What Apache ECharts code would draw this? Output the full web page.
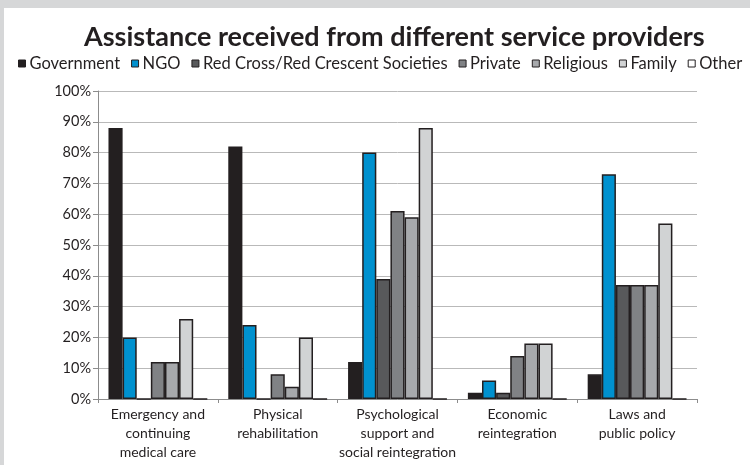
<!DOCTYPE html>
<html>
<head>
<meta charset="utf-8">
<script src="https://cdn.jsdelivr.net/npm/echarts@6/dist/echarts.min.js"></script>
<style>
  html, body { margin: 0; padding: 0; background: #d6d7d8; width: 750px; height: 465px; overflow: hidden; }
  #chart { position: absolute; left: 4px; top: 8px; width: 746px; height: 457px; background: #ffffff; }
</style>
</head>
<body>
<div id="chart"></div>
<script>
// Service areas on the x axis
const categories = [
  'Emergency and\ncontinuing\nmedical care',
  'Physical\nrehabilitation',
  'Psychological\nsupport and\nsocial reintegration',
  'Economic\nreintegration',
  'Laws and\npublic policy'
];

// Share of respondents (%) assisted by each provider
const government = [88, 82, 12, 2, 8];
const ngo        = [20, 24, 80, 6, 73];
const redCross   = [0, 0, 39, 2, 37];
const privateSec = [12, 8, 61, 14, 37];
const religious  = [12, 4, 59, 18, 37];
const family     = [26, 20, 88, 18, 57];
const other      = [0, 0, 0, 0, 0];

const yTicks = { min: 0, max: 100, interval: 10 };

const seriesDefs = [
  { name: 'Government', data: government, color: '#231f20' },
  { name: 'NGO', data: ngo, color: '#0091cf' },
  { name: 'Red Cross/Red Crescent Societies', data: redCross, color: '#58595b' },
  { name: 'Private', data: privateSec, color: '#808285' },
  { name: 'Religious', data: religious, color: '#a7a9ac' },
  { name: 'Family', data: family, color: '#d1d3d4' },
  { name: 'Other', data: other, color: '#ffffff' }
];

const chart = echarts.init(document.getElementById('chart'), null, { renderer: 'canvas' });

chart.setOption({
  animation: false,
  textStyle: { fontFamily: 'Lato', color: '#231f20' },
  title: {
    text: 'Assistance received from different service providers',
    left: 75,
    top: 11,
    textStyle: { fontFamily: 'Lato', fontWeight: 'bold', fontSize: 27, color: '#231f20' }
  },
  legend: {
    top: 47,
    left: 14,
    width: 732,
    padding: 0,
    itemWidth: 7,
    itemHeight: 7,
    itemGap: 11,
    icon: 'rect',
    textStyle: { fontFamily: 'Lato', fontSize: 16.5, color: '#231f20', padding: [0, 0, 0, -1] },
    itemStyle: { borderColor: '#231f20', borderWidth: 1 },
    data: seriesDefs.map(s => s.name)
  },
  grid: { left: 94, right: 53, top: 83, bottom: 66, containLabel: false },
  xAxis: {
    type: 'category',
    data: categories,
    axisLine: { show: true, lineStyle: { color: '#8c8c8c', width: 1 } },
    axisTick: { show: true, length: 4, lineStyle: { color: '#8c8c8c' } },
    axisLabel: { fontFamily: 'Lato', fontSize: 14, lineHeight: 19, color: '#231f20', margin: 6, interval: 0 }
  },
  yAxis: {
    type: 'value',
    min: yTicks.min,
    max: yTicks.max,
    interval: yTicks.interval,
    axisLine: { show: true, lineStyle: { color: '#8c8c8c', width: 1 } },
    axisTick: { show: true, length: 5, lineStyle: { color: '#8c8c8c' } },
    axisLabel: { formatter: '{value}%', fontFamily: 'Lato', fontSize: 14.5, color: '#231f20', margin: 7 },
    splitLine: { lineStyle: { color: '#b9b9b9', width: 1 } }
  },
  series: seriesDefs.map(s => ({
    name: s.name,
    type: 'bar',
    data: s.data,
    barGap: '0%',
    barCategoryGap: '17.5%',
    itemStyle: { color: s.color, borderColor: '#231f20', borderWidth: 1.5 }
  }))
});
</script>
</body>
</html>
